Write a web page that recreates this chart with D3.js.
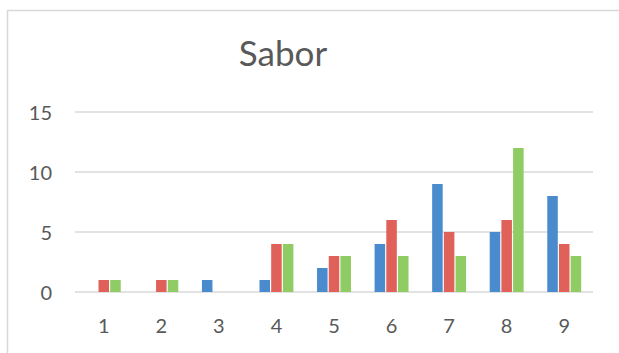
<!DOCTYPE html>
<html>
<head>
<meta charset="utf-8">
<script src="https://cdn.jsdelivr.net/npm/d3@7"></script>
<style>
  html, body { margin: 0; padding: 0; background: #ffffff; }
  svg { display: block; }
</style>
</head>
<body>
<svg id="chart" width="619" height="353"></svg>
<script>
// Category labels along the x axis
const categories = ["1", "2", "3", "4", "5", "6", "7", "8", "9"];
// Three series, one value per category
const seriesA = [0, 0, 1, 1, 2, 4, 9, 5, 8];
const seriesB = [1, 1, 0, 4, 3, 6, 5, 6, 4];
const seriesC = [1, 1, 0, 4, 3, 3, 3, 12, 3];
const seriesNames = ["A", "B", "C"];
const seriesColors = ["#4a8bcd", "#e0605a", "#8fcc64"];
const yTicks = [0, 5, 10, 15];
const title = "Sabor";

const svg = d3.select("#chart");
const W = 619, H = 353;
const plot = { left: 75, right: 593, top: 112, bottom: 292 };
const font = "Lato, 'Open Sans', sans-serif";
const textColor = "#595959";

// chart frame
svg.append("rect")
  .attr("x", 7.5).attr("y", 10.5)
  .attr("width", W + 10).attr("height", H + 10)
  .attr("fill", "#ffffff")
  .attr("stroke", "#d9d9d9").attr("stroke-width", 1.5);

const x0 = d3.scaleBand().domain(categories)
  .range([plot.left, plot.right]).paddingInner(0.37).paddingOuter(0.185);
const x1 = d3.scaleBand().domain(seriesNames)
  .range([0, x0.bandwidth()]).padding(0.1);
const y = d3.scaleLinear().domain([0, 15]).range([plot.bottom, plot.top]);

// gridlines
svg.append("g").selectAll("line").data(yTicks).join("line")
  .attr("x1", plot.left).attr("x2", plot.right)
  .attr("y1", d => y(d)).attr("y2", d => y(d))
  .attr("stroke", "#d9d9d9").attr("stroke-width", 1.5);

// y axis labels
const yAxis = d3.axisLeft(y).tickValues(yTicks).tickSize(0).tickPadding(0);
const gy = svg.append("g").attr("transform", `translate(${plot.left - 23},0)`).call(yAxis);
gy.select(".domain").remove();
gy.selectAll("text")
  .attr("font-family", font).attr("font-size", 20)
  .attr("fill", textColor).attr("dy", "0.35em");

// bars
const table = categories.map((c, i) => ({
  cat: c,
  vals: [seriesA[i], seriesB[i], seriesC[i]]
}));
const groups = svg.append("g").selectAll("g").data(table).join("g")
  .attr("transform", d => `translate(${x0(d.cat)},0)`);
groups.selectAll("rect")
  .data(d => d.vals.map((v, j) => ({ name: seriesNames[j], v, color: seriesColors[j] })))
  .join("rect")
  .filter(d => d.v > 0)
  .attr("x", d => x1(d.name))
  .attr("width", x1.bandwidth())
  .attr("y", d => y(d.v))
  .attr("height", d => y(0) - y(d.v))
  .attr("fill", d => d.color);

// x axis labels
const xAxis = d3.axisBottom(x0).tickSize(0).tickPadding(0);
const gx = svg.append("g").attr("transform", `translate(0,${plot.bottom + 27})`).call(xAxis);
gx.select(".domain").remove();
gx.selectAll("text")
  .attr("font-family", font).attr("font-size", 20)
  .attr("fill", textColor).attr("dy", "0.71em");

// title
svg.append("text")
  .attr("x", 283).attr("y", 66)
  .attr("text-anchor", "middle")
  .attr("font-family", font).attr("font-size", 35)
  .attr("fill", textColor)
  .text(title);
</script>
</body>
</html>
